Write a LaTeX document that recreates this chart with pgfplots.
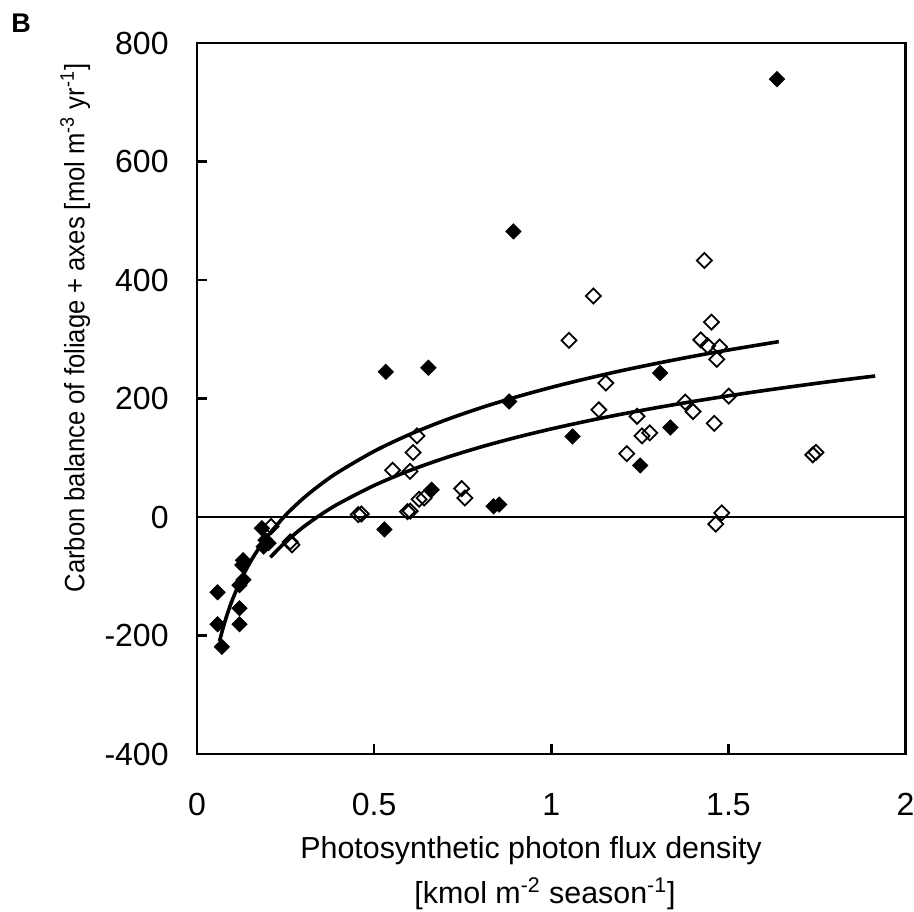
\documentclass[border=0pt]{standalone}
\usepackage{fontspec}
\setmainfont{Liberation Sans}
\usepackage{graphicx}
\usepackage{pgfplots}
\pgfplotsset{compat=1.18}
\begin{document}
\begin{tikzpicture}
\begin{axis}[
  name=ax,
  scale only axis, width=354.3pt, height=355.5pt,
  xmin=0, xmax=2, ymin=-400, ymax=800,
  xtick={0,0.5,1,1.5,2}, ytick={-400,-200,0,200,400,600,800},
  tick pos=left, tick align=inside, major tick length=5pt,
  axis line style={line width=1.4pt},
  major tick style={line width=1.2pt, black},
  /pgf/number format/assume math mode=true,
  ticklabel style={font=\fontsize{16}{19}\selectfont, inner sep=0pt},
  xticklabel style={anchor=base, yshift=-30.5pt},
  yticklabel style={anchor=east, xshift=-14pt},
  xlabel={Photosynthetic photon flux density},
  xlabel style={font=\fontsize{15.2}{18}\selectfont, at={(axis description cs:0.4714,0)}, anchor=base, yshift=-52pt},
  ylabel={\scalebox{0.915}[1]{Carbon balance of foliage + axes [mol m\textsuperscript{-3} yr\textsuperscript{-1}]}},
  ylabel style={font=\fontsize{14}{17}\selectfont, at={(axis description cs:-0.172,0.599)}, anchor=center},
]
% zero line
\addplot[black, line width=0.7pt, no marks] coordinates {(0,0) (2,0)};
% fitted curve (filled series)
\addplot[black, line width=1.8pt, no marks, smooth] coordinates {
(0.0635,-210.2) (0.07,-195.0) (0.08,-174.2) (0.09,-155.9) (0.10,-139.5) (0.12,-111.1)
(0.14,-87.1) (0.16,-66.4) (0.18,-48.0) (0.20,-31.6) (0.25,3.1) (0.30,31.5) (0.35,55.5)
(0.40,76.2) (0.50,111.0) (0.60,139.3) (0.70,163.3) (0.80,184.1) (0.90,202.4) (1.00,218.8)
(1.10,233.6) (1.20,247.2) (1.30,259.6) (1.40,271.2) (1.50,281.9) (1.642,296.0)};
% fitted curve (open series)
\addplot[black, line width=1.8pt, no marks, smooth] coordinates {
(0.207,-68.0) (0.25,-42.1) (0.30,-17.0) (0.35,4.2) (0.40,22.6) (0.50,53.3) (0.60,78.4)
(0.70,99.6) (0.80,118.0) (0.90,134.2) (1.00,148.7) (1.10,161.8) (1.20,173.8) (1.30,184.8)
(1.40,195.0) (1.50,204.5) (1.60,213.4) (1.70,221.7) (1.80,229.6) (1.914,238.0)};
% open diamonds
\addplot[only marks, mark=square, mark size=2.65pt,
  mark options={rotate=45, draw=black, fill=white, line width=0.9pt}] coordinates {
(1.432,433) (1.119,373) (1.050,298) (1.452,329) (1.422,299) (1.441,289) (1.475,287)
(1.467,266) (1.154,226) (1.501,204) (1.378,194) (1.400,178) (1.134,181) (1.242,170)
(1.460,158) (1.256,137) (1.278,142) (1.213,107) (1.738,105) (1.747,109) (1.481,7)
(1.464,-12) (0.621,137) (0.610,109) (0.552,79) (0.601,77) (0.747,48) (0.756,32)
(0.627,30) (0.641,32) (0.594,9) (0.602,10) (0.455,4) (0.464,5) (0.209,-16)
(0.263,-42) (0.268,-47)};
% filled diamonds
\addplot[only marks, mark=square*, mark size=2.65pt,
  mark options={rotate=45, draw=black, fill=black, line width=0.5pt}] coordinates {
(1.637,739) (0.893,482) (0.533,245) (0.653,252) (0.881,195) (1.307,243) (1.060,136)
(1.336,151) (1.251,87) (0.662,46) (0.837,18) (0.853,21) (0.529,-21) (0.058,-127)
(0.058,-181) (0.070,-219) (0.120,-154) (0.120,-181) (0.120,-115) (0.131,-106)
(0.130,-73) (0.128,-81) (0.183,-19) (0.193,-39) (0.188,-50) (0.202,-44)};
\end{axis}
\node[anchor=base, inner sep=0pt, font=\fontsize{15.2}{18}\selectfont] at ([xshift=174pt, yshift=-74.5pt]ax.south west) {[kmol m\textsuperscript{-2} season\textsuperscript{-1}]};
\node[anchor=base west, inner sep=0pt, font=\fontsize{13.5}{16}\selectfont\bfseries] at (-93pt,360.5pt) {B};
\pgfresetboundingbox
\path (-98.5pt,-78.5pt) rectangle (358.5pt,377pt);
\end{tikzpicture}
\end{document}
